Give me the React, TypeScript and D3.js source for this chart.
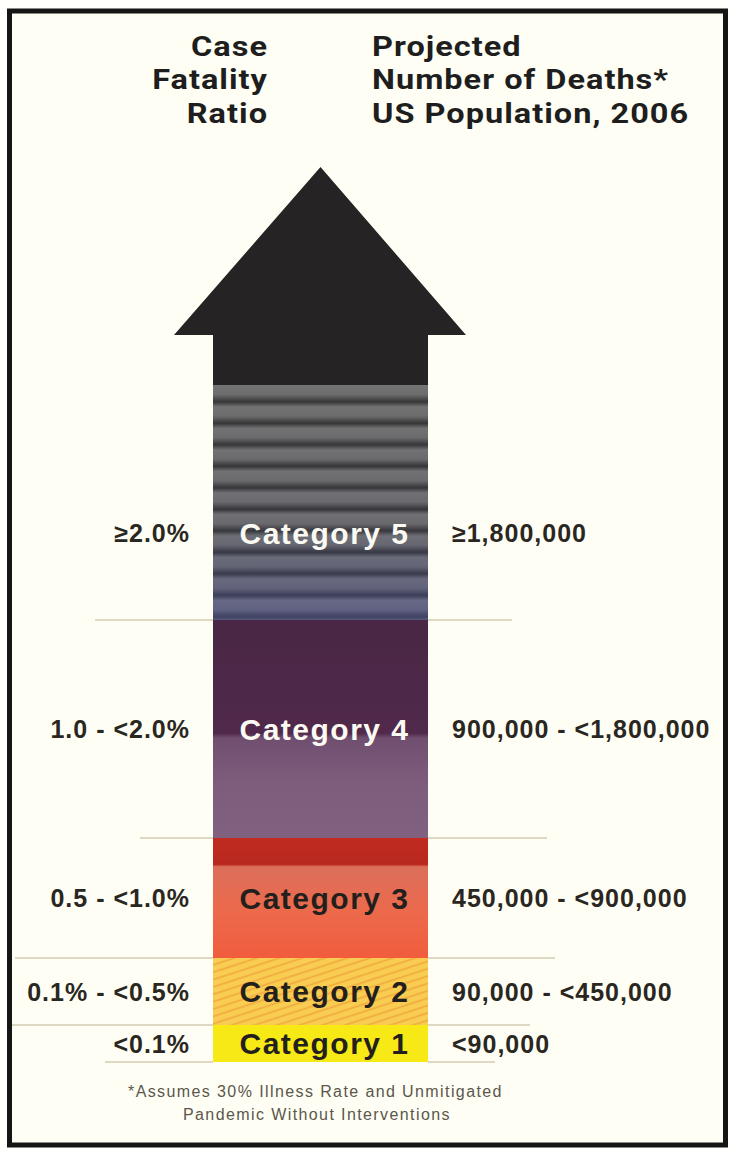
import React from "react";
import * as d3 from "d3";

// ---- data ----
const categories = ["Category 1", "Category 2", "Category 3", "Category 4", "Category 5"];
const fatalityRatio = ["<0.1%", "0.1% - <0.5%", "0.5 - <1.0%", "1.0 - <2.0%", "\u22652.0%"];
const projectedDeaths = ["<90,000", "90,000 - <450,000", "450,000 - <900,000", "900,000 - <1,800,000", "\u22651,800,000"];
// relative heights of each band of the arrow shaft (bottom to top)
const bandHeights = [37, 67, 120, 218, 235];
const topBlockHeight = 50; // plain dark shaft above Category 5
const headHeight = 168; // arrow head
const labelFrac = [0.5, 0.5, 0.5, 0.5, 0.37];
const darkText = [true, true, true, false, false];
const leftHeader = ["Case", "Fatality", "Ratio"];
const rightHeader = ["Projected", "Number of Deaths*", "US Population, 2006"];
const footnote = ["*Assumes 30% Illness Rate and Unmitigated", "Pandemic Without Interventions"];

export default function App() {
  const W = 731;
  const H = 1151;
  const shaftL = 213;
  const shaftR = 428;
  const headL = 174;
  const headR = 466;
  const cx = (shaftL + shaftR) / 2;

  const edges = [0, ...d3.cumsum(bandHeights)];
  const shaftTotal = edges[edges.length - 1] + topBlockHeight;
  const total = shaftTotal + headHeight;
  const y = d3.scaleLinear().domain([0, total]).range([1062, 167]);

  const bands = bandHeights.map((h, i) => ({
    i,
    y0: y(edges[i + 1]),
    y1: y(edges[i]),
  }));

  const headBase = y(shaftTotal);
  const tip = y(total);
  const arrowPath = d3.path();
  arrowPath.moveTo(cx, tip);
  arrowPath.lineTo(headR, headBase);
  arrowPath.lineTo(shaftR, headBase);
  arrowPath.lineTo(shaftR, y(edges[5]));
  arrowPath.lineTo(shaftL, y(edges[5]));
  arrowPath.lineTo(shaftL, headBase);
  arrowPath.lineTo(headL, headBase);
  arrowPath.closePath();

  const fills = [
    "#f7e916",
    "url(#pat2)",
    "url(#grad3)",
    "url(#grad4)",
    "url(#pat5)",
  ];

  // separator line extents [left start, right end] at each band edge (bottom to top)
  const sepExtents: [number, number][] = [
    [105, 495],
    [12, 530],
    [15, 555],
    [140, 547],
    [95, 512],
  ];

  const sans = "'Liberation Sans', Arial, sans-serif";
  const head = "Roboto, sans-serif";

  return (
    <svg width={W} height={H} style={{ position: "absolute", left: 0, top: 0 }}>
      <defs>
        <linearGradient id="stripeG" x1="0" y1="0" x2="0" y2="1">
          <stop offset="0" stopColor="#747474" />
          <stop offset="0.45" stopColor="#6c6c6c" />
          <stop offset="0.78" stopColor="#353535" />
          <stop offset="1" stopColor="#6e6e6e" />
        </linearGradient>
        <pattern id="pat5" patternUnits="userSpaceOnUse" x={0} y={bands[4].y0} width={W} height={21.5}>
          <rect x={0} y={0} width={W} height={21.5} fill="url(#stripeG)" />
        </pattern>
        <linearGradient id="tint5" x1="0" y1="0" x2="0" y2="1">
          <stop offset="0" stopColor="#3a3f8a" stopOpacity="0" />
          <stop offset="0.6" stopColor="#3a3f8a" stopOpacity="0.06" />
          <stop offset="1" stopColor="#5055a8" stopOpacity="0.42" />
        </linearGradient>
        <linearGradient id="grad4" x1="0" y1="0" x2="0" y2="1">
          <stop offset="0" stopColor="#4a2745" />
          <stop offset="0.52" stopColor="#50294b" />
          <stop offset="0.54" stopColor="#6f4e70" />
          <stop offset="0.75" stopColor="#7d5c7c" />
          <stop offset="1" stopColor="#80617f" />
        </linearGradient>
        <linearGradient id="grad3" x1="0" y1="0" x2="0" y2="1">
          <stop offset="0" stopColor="#c02a1f" />
          <stop offset="0.22" stopColor="#b8281e" />
          <stop offset="0.24" stopColor="#db6f5a" />
          <stop offset="0.6" stopColor="#ec6a4c" />
          <stop offset="1" stopColor="#f15c3d" />
        </linearGradient>
        <pattern id="pat2" patternUnits="userSpaceOnUse" width={9} height={7} patternTransform="rotate(-18)">
          <rect x={0} y={0} width={9} height={7} fill="#f9cd52" />
          <line x1={0} y1={3.5} x2={9} y2={3.5} stroke="#f0a83e" strokeWidth={1.6} />
        </pattern>
      </defs>

      <rect x={0} y={0} width={W} height={H} fill="#fffffb" />
      <rect x={9.5} y={11} width={716} height={1134} fill="#fffef4" stroke="#151515" strokeWidth={5} />

      {/* header */}
      <g transform="translate(268,0) scale(1.14,1)">
        {leftHeader.map((t, i) => (
          <text key={"lh" + i} x={0} y={56 + i * 33.5} textAnchor="end" fontFamily={head} fontWeight={700} fontSize={28.5} fill="#1e1e1e" letterSpacing={0.9}>
            {t}
          </text>
        ))}
      </g>
      <g transform="translate(372,0) scale(1.14,1)">
        {rightHeader.map((t, i) => (
          <text key={"rh" + i} x={0} y={56 + i * 33.5} textAnchor="start" fontFamily={head} fontWeight={700} fontSize={28.5} fill="#1e1e1e" letterSpacing={0.9}>
            {t}
          </text>
        ))}
      </g>

      {/* arrow top (head + dark block) */}
      <path d={arrowPath.toString()} fill="#252323" />

      {/* bands */}
      {bands.map((b) => (
        <rect key={"b" + b.i} x={shaftL} y={b.y0} width={shaftR - shaftL} height={b.y1 - b.y0} fill={fills[b.i]} />
      ))}
      <rect x={shaftL} y={bands[4].y0} width={shaftR - shaftL} height={bands[4].y1 - bands[4].y0} fill="url(#tint5)" />

      {/* separator lines */}
      {edges.map((e, i) => {
        if (i >= sepExtents.length) return null;
        const yy = y(e);
        const [l, r] = sepExtents[i];
        return (
          <g key={"s" + i} stroke="#8c8250" strokeWidth={1.2} opacity={0.6}>
            <line x1={l} x2={shaftL} y1={yy} y2={yy} />
            <line x1={shaftR} x2={r} y1={yy} y2={yy} />
          </g>
        );
      })}

      {/* labels */}
      {bands.map((b) => {
        const ly = b.y1 - (b.y1 - b.y0) * labelFrac[b.i];
        return (
          <g key={"l" + b.i}>
            <text x={cx + 4} y={ly} dy="0.36em" textAnchor="middle" fontFamily={sans} fontWeight={700} fontSize={30} letterSpacing={1.5} fill={darkText[b.i] ? "#231f1c" : "#fbfaf2"}>
              {categories[b.i]}
            </text>
            <text x={190} y={ly} dy="0.36em" textAnchor="end" fontFamily={sans} fontWeight={700} fontSize={25} letterSpacing={1} fill="#2a2722">
              {fatalityRatio[b.i]}
            </text>
            <text x={452} y={ly} dy="0.36em" textAnchor="start" fontFamily={sans} fontWeight={700} fontSize={25} letterSpacing={1} fill="#2a2722">
              {projectedDeaths[b.i]}
            </text>
          </g>
        );
      })}

      {/* footnote */}
      <text x={128} y={1097} fontFamily={sans} fontSize={16} letterSpacing={1.4} fill="#5a574c">
        {footnote[0]}
      </text>
      <text x={183} y={1120} fontFamily={sans} fontSize={16} letterSpacing={1.4} fill="#5a574c">
        {footnote[1]}
      </text>
    </svg>
  );
}
